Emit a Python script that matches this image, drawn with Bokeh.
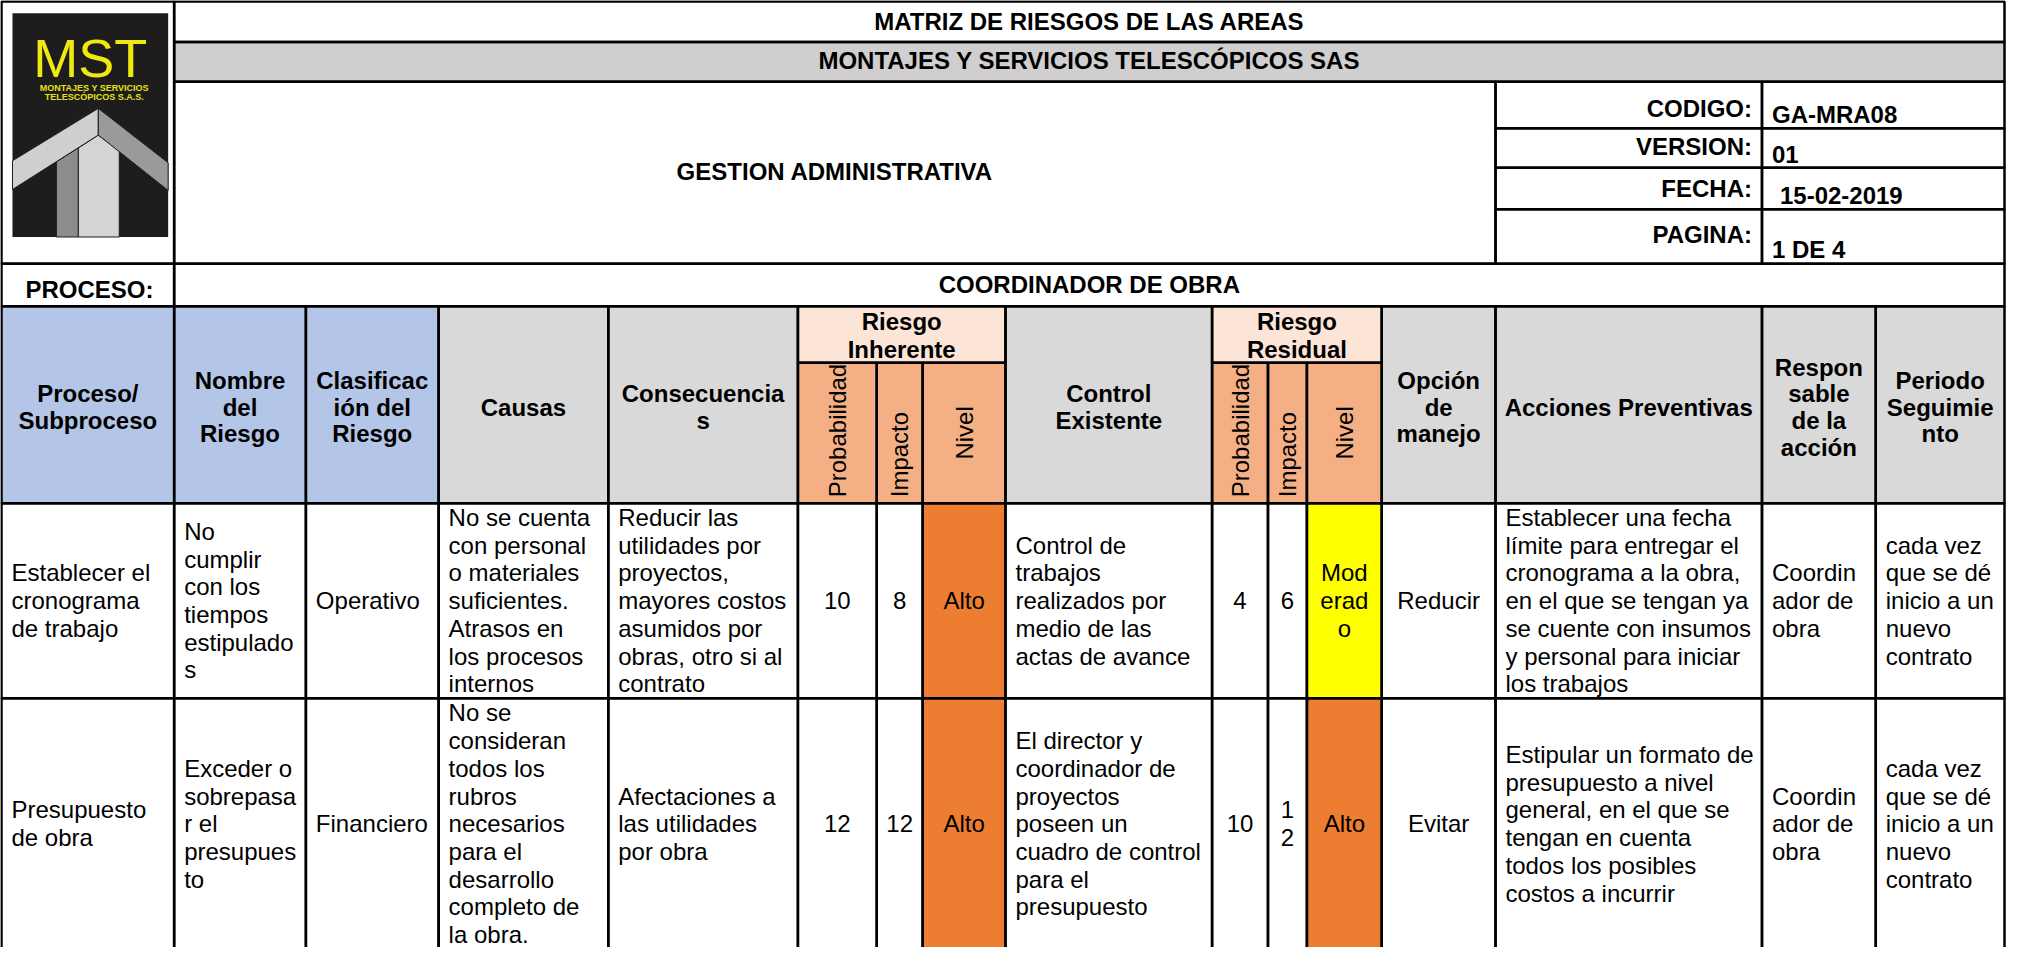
import math
from bokeh.plotting import figure
from bokeh.models import Range1d, ColumnDataSource
from bokeh.core.properties import value
from bokeh.embed import file_html
from bokeh.resources import INLINE

# ---------------- data ----------------
doc_title = "MATRIZ DE RIESGOS DE LAS AREAS"
company = "MONTAJES Y SERVICIOS TELESCÓPICOS SAS"
area = "GESTION ADMINISTRATIVA"
meta_labels = ["CODIGO:", "VERSION:", "FECHA:", "PAGINA:"]
meta_values = ["GA-MRA08", "01", "15-02-2019", "1 DE 4"]
process_label = "PROCESO:"
process_name = "COORDINADOR DE OBRA"
logo_name = "MST"
logo_sub = ["MONTAJES Y SERVICIOS", "TELESCÓPICOS S.A.S."]

header_labels = [
    "Proceso/\nSubproceso", "Nombre\ndel\nRiesgo", "Clasificac\nión del\nRiesgo",
    "Causas", "Consecuencia\ns",
    "Probabilidad", "Impacto", "Nivel",
    "Control\nExistente",
    "Probabilidad", "Impacto", "Nivel",
    "Opción\nde\nmanejo", "Acciones Preventivas",
    "Respon\nsable\nde la\nacción", "Periodo\nSeguimie\nnto",
]
group_labels = ["Riesgo\nInherente", "Riesgo\nResidual"]

proceso = ["Establecer el\ncronograma\nde trabajo", "Presupuesto\nde obra"]
nombre_riesgo = ["No\ncumplir\ncon los\ntiempos\nestipulado\ns",
                 "Exceder o\nsobrepasa\nr el\npresupues\nto"]
clasificacion = ["Operativo", "Financiero"]
causas = ["No se cuenta\ncon personal\no materiales\nsuficientes.\nAtrasos en\nlos procesos\ninternos",
          "No se\nconsideran\ntodos los\nrubros\nnecesarios\npara el\ndesarrollo\ncompleto de\nla obra."]
consecuencias = ["Reducir las\nutilidades por\nproyectos,\nmayores costos\nasumidos por\nobras, otro si al\ncontrato",
                 "Afectaciones a\nlas utilidades\npor obra"]
prob_inherente = [10, 12]
imp_inherente = [8, 12]
nivel_inherente = ["Alto", "Alto"]
control = ["Control de\ntrabajos\nrealizados por\nmedio de las\nactas de avance",
           "El director y\ncoordinador de\nproyectos\nposeen un\ncuadro de control\npara el\npresupuesto"]
prob_residual = [4, 10]
imp_residual = [6, 12]
nivel_residual = ["Moderado", "Alto"]
opcion = ["Reducir", "Evitar"]
acciones = ["Establecer una fecha\nlímite para entregar el\ncronograma a la obra,\nen el que se tengan ya\nse cuente con insumos\ny personal para iniciar\nlos trabajos",
            "Estipular un formato de\npresupuesto a nivel\ngeneral, en el que se\ntengan en cuenta\ntodos los posibles\ncostos a incurrir"]
responsable = ["Coordin\nador de\nobra", "Coordin\nador de\nobra"]
periodo = ["cada vez\nque se dé\ninicio a un\nnuevo\ncontrato", "cada vez\nque se dé\ninicio a un\nnuevo\ncontrato"]

level_colors = {"Alto": "#ED7D31", "Moderado": "#FFFF00"}
level_display = {"Moderado": "Mod\nerad\no", "Alto": "Alto"}

# ---------------- layout ----------------
X_EDGES = [5, 178, 310, 443, 613, 803, 882, 928, 1011, 1218, 1274, 1313, 1388, 1502, 1769, 1883, 2012]
Y_TOP, Y_T1, Y_T2, Y_BOX, Y_PROC = 7, 48, 88, 272, 315
META_Y = [88, 135, 175, 217, 272]
META_LABEL_Y = [115, 154, 196, 242]
META_VALUE_Y = [121, 162, 203, 258]
META_PAD = [0, 0, 8, 0]
Y_SUB, Y_HDR = 372, 514
ROW_Y = [514, 711, 965]
GROUPS = [(5, 7), (9, 11)]
LEFT_COLS = {0, 1, 2, 3, 4, 8, 13, 14, 15}
ROT_COLS = {5, 6, 7, 9, 10, 11}
FS = 24
LH = 28
HLH = 27
FONT = "Liberation Sans"
BLUE, GRAY, GRAY2, PEACH, SALMON = "#B4C6E7", "#D9D9D9", "#D0CECE", "#FCE4D6", "#F4B084"

W, H = 2006, 947
p = figure(width=W, height=H, x_range=Range1d(4, 2014), y_range=Range1d(963, 6),
           output_backend="svg", toolbar_location=None, min_border=0)
p.axis.visible = False
p.grid.visible = False
p.outline_line_color = None
p.background_fill_color = "white"

fills = dict(l=[], r=[], t=[], b=[], c=[])
def fill(l, r, t, b, c):
    fills["l"].append(l); fills["r"].append(r); fills["t"].append(t); fills["b"].append(b); fills["c"].append(c)

borders = dict(l=[], r=[], t=[], b=[])
def border(l, r, t, b):
    borders["l"].append(l); borders["r"].append(r); borders["t"].append(t); borders["b"].append(b)

T = dict(x=[], y=[], text=[], size=[], style=[], align=[], color=[], angle=[])
def put(x, y, txt, bold=False, align="left", lh=LH, size=FS, color="black", angle=0.0):
    lines = str(txt).split("\n")
    n = len(lines)
    for i, ln in enumerate(lines):
        T["x"].append(x); T["y"].append(y + (i - (n - 1) / 2) * lh)
        T["text"].append(ln); T["size"].append(f"{size}px")
        T["style"].append("bold" if bold else "normal")
        T["align"].append(align); T["color"].append(color); T["angle"].append(angle)

# ---- top section ----
fill(X_EDGES[1], X_EDGES[-1], Y_T1, Y_T2, GRAY2)
border(X_EDGES[0], X_EDGES[1], Y_TOP, Y_BOX)
border(X_EDGES[1], X_EDGES[-1], Y_TOP, Y_T1)
border(X_EDGES[1], X_EDGES[-1], Y_T1, Y_T2)
border(X_EDGES[1], X_EDGES[13], Y_T2, Y_BOX)
for i in range(4):
    border(X_EDGES[13], X_EDGES[14], META_Y[i], META_Y[i + 1])
    border(X_EDGES[14], X_EDGES[-1], META_Y[i], META_Y[i + 1])
    put(X_EDGES[14] - 10, META_LABEL_Y[i], meta_labels[i], bold=True, align="right")
    put(X_EDGES[14] + 10 + META_PAD[i], META_VALUE_Y[i], meta_values[i], bold=True)
border(X_EDGES[0], X_EDGES[1], Y_BOX, Y_PROC)
border(X_EDGES[1], X_EDGES[-1], Y_BOX, Y_PROC)
mid = (X_EDGES[1] + X_EDGES[-1]) / 2
put(mid, 27, doc_title, bold=True, align="center")
put(mid, 67, company, bold=True, align="center")
put((X_EDGES[1] + X_EDGES[13]) / 2, 179, area, bold=True, align="center")
put(X_EDGES[0] + 24, 298, process_label, bold=True)
put(mid, 293, process_name, bold=True, align="center")

# ---- header ----
in_group = {}
for gi, (a, b) in enumerate(GROUPS):
    for c in range(a, b + 1):
        in_group[c] = gi
for gi, (a, b) in enumerate(GROUPS):
    l, r = X_EDGES[a], X_EDGES[b + 1]
    fill(l, r, Y_PROC, Y_SUB, PEACH)
    border(l, r, Y_PROC, Y_SUB)
    put((l + r) / 2, (Y_PROC + Y_SUB) / 2 + 1, group_labels[gi], bold=True, align="center", lh=LH)

ROT_ALIGN = {"Probabilidad": "left", "Impacto": "left", "Nivel": "center"}
for c, lab in enumerate(header_labels):
    l, r = X_EDGES[c], X_EDGES[c + 1]
    top = Y_SUB if c in in_group else Y_PROC
    colr = BLUE if c < 3 else (SALMON if c in in_group else GRAY)
    fill(l, r, top, Y_HDR, colr)
    border(l, r, top, Y_HDR)
    cx = (l + r) / 2
    if c in ROT_COLS:
        al = ROT_ALIGN[lab]
        y = Y_HDR - 6 if al == "left" else (Y_SUB + Y_HDR) / 2
        put(cx, y, lab, align=al, angle=math.pi / 2)
    else:
        put(cx, 417, lab, bold=True, align="center", lh=HLH)

# ---- body ----
def fit_digits(v, width):
    s = str(v)
    return "\n".join(s) if len(s) * 0.556 * FS + 14 > width else s

columns = [proceso, nombre_riesgo, clasificacion, causas, consecuencias,
           prob_inherente, imp_inherente, nivel_inherente, control,
           prob_residual, imp_residual, nivel_residual, opcion, acciones,
           responsable, periodo]
level_cols = {7, 11}
for ri in range(len(proceso)):
    t, b = ROW_Y[ri], ROW_Y[ri + 1]
    cy = (t + b) / 2
    for c, col in enumerate(columns):
        l, r = X_EDGES[c], X_EDGES[c + 1]
        v = col[ri]
        if c in level_cols:
            fill(l, r, t, b, level_colors[v])
            txt = level_display[v]
        elif isinstance(v, int):
            txt = fit_digits(v, r - l)
        else:
            txt = v
        border(l, r, t, b)
        if c in LEFT_COLS:
            put(l + 10, cy, txt)
        else:
            put((l + r) / 2, cy, txt, align="center")

# ---- draw fills ----
p.quad(left="l", right="r", top="t", bottom="b", fill_color="c", line_color=None,
       source=ColumnDataSource(fills))

# ---- logo ----
LX0, LX1, LY0, LY1 = 16, 172, 19, 245
p.quad(left=[LX0], right=[LX1], top=[LY0], bottom=[LY1], fill_color="#1E1C1C", line_color=None)
ax, ay, ay2 = 102, 115, 142
p.patches(
    xs=[[60, 82, 82, 60], [82, ax, 123, 123, 82], [ax, ax, LX0, LX0], [ax, LX1, LX1, ax]],
    ys=[[169, 155, LY1, LY1], [155, ay2, 158, LY1, LY1], [ay, ay2, 197, 168], [ay, 170, 198, ay2]],
    fill_color=["#8C8C8C", "#D4D4D4", "#CFCFCF", "#9A9A9A"], line_color="#1E1C1C", line_width=1)
p.text(x=[94], y=[64], text=[logo_name], text_font=value(FONT), text_font_size="54px",
       text_color="#EEEA10", text_align="center", text_baseline="middle")
p.text(x=[98, 98], y=[94, 104], text=logo_sub, text_font=value(FONT), text_font_size="9px",
       text_font_style="bold", text_color="#E6E21A", text_align="center", text_baseline="middle")

# ---- borders ----
p.quad(left="l", right="r", top="t", bottom="b", fill_alpha=0, line_color="black", line_width=2.5,
       source=ColumnDataSource(borders))

# ---- texts ----
p.text(x="x", y="y", text="text", angle="angle", text_font=value(FONT), text_font_size="size",
       text_font_style="style", text_align="align", text_color="color", text_baseline="middle",
       source=ColumnDataSource(T))

open("out.html", "w").write(file_html(p, INLINE))
